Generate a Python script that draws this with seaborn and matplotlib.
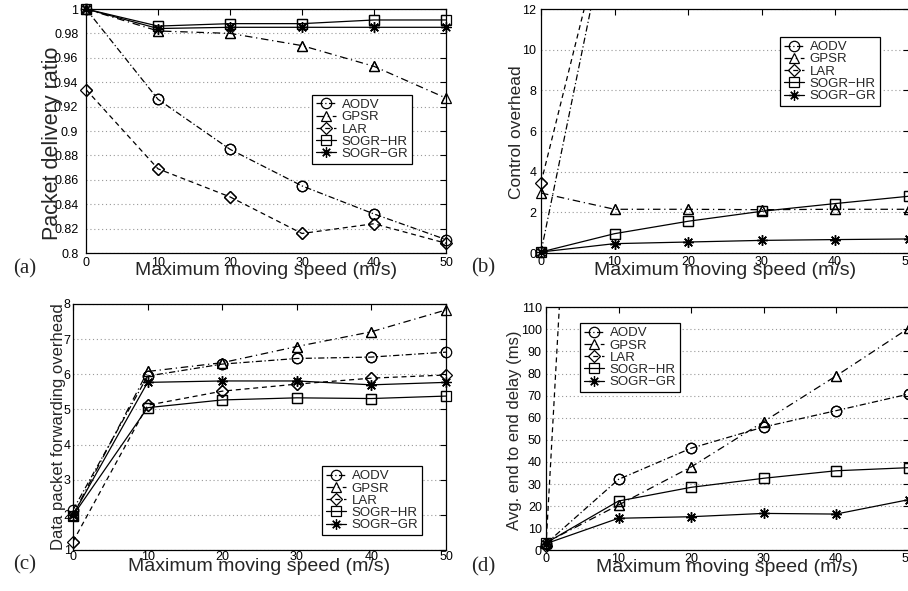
import matplotlib
matplotlib.use("Agg")
import matplotlib.pyplot as plt
import seaborn as sns

# x axis shared by all four panels
speed = [0, 10, 20, 30, 40, 50]
protocols = ["AODV", "GPSR", "LAR", "SOGR-HR", "SOGR-GR"]

# (a) packet delivery ratio
pdr_aodv = [1.0, 0.926, 0.885, 0.855, 0.832, 0.811]
pdr_gpsr = [1.0, 0.982, 0.980, 0.970, 0.953, 0.927]
pdr_lar = [0.934, 0.869, 0.846, 0.816, 0.824, 0.808]
pdr_hr = [1.0, 0.986, 0.988, 0.988, 0.991, 0.991]
pdr_gr = [1.0, 0.984, 0.985, 0.985, 0.985, 0.985]

# (b) control overhead (AODV / LAR leave the plot after x=0)
ctrl_aodv = [0.05, 17.7, 22.0, 26.0, 29.0, 32.0]
ctrl_gpsr = [2.95, 2.15, 2.15, 2.13, 2.15, 2.15]
ctrl_lar = [3.45, 18.0, 23.0, 27.0, 30.0, 33.0]
ctrl_hr = [0.05, 0.95, 1.56, 2.05, 2.43, 2.79]
ctrl_gr = [0.05, 0.46, 0.54, 0.62, 0.66, 0.69]

# (c) data packet forwarding overhead
fwd_aodv = [2.14, 5.95, 6.29, 6.45, 6.49, 6.63]
fwd_gpsr = [2.0, 6.08, 6.33, 6.79, 7.21, 7.83]
fwd_lar = [1.24, 5.12, 5.52, 5.72, 5.89, 5.98]
fwd_hr = [1.98, 5.05, 5.27, 5.33, 5.31, 5.38]
fwd_gr = [2.0, 5.77, 5.81, 5.81, 5.70, 5.77]

# (d) avg. end to end delay (ms)
delay_aodv = [3.0, 32.1, 46.2, 55.8, 63.2, 70.7]
delay_gpsr = [3.5, 20.5, 37.7, 58.2, 78.9, 100.5]
delay_lar = [2.0, 590.0, 760.0, 880.0, 960.0, 1030.0]
delay_hr = [3.3, 22.3, 28.5, 32.6, 36.0, 37.4]
delay_gr = [3.0, 14.5, 15.2, 16.7, 16.4, 22.9]

pdr_ticks = [0.8, 0.82, 0.84, 0.86, 0.88, 0.9, 0.92, 0.94, 0.96, 0.98, 1.0]
pdr_ticklabels = ["0.8", "0.82", "0.84", "0.86", "0.88", "0.9", "0.92", "0.94", "0.96", "0.98", "1"]

sns.set_style("white")
plt.rcParams["font.family"] = ["Liberation Sans", "DejaVu Sans"]

STYLES = {
    "AODV": dict(marker="o", linestyle=(0, (5, 2, 1, 2))),
    "GPSR": dict(marker="^", linestyle=(0, (6, 3, 1, 3))),
    "LAR": dict(marker="D", linestyle=(0, (4, 3))),
    "SOGR-HR": dict(marker="s", linestyle="-"),
    "SOGR-GR": dict(marker=(8, 2, 0), linestyle="-"),
}
MSIZE = {"AODV": 7.5, "GPSR": 7.5, "LAR": 6, "SOGR-HR": 6.5, "SOGR-GR": 7.5}


def draw_panel(ax, series, ylim, yticks, yticklabels, ylabel, ysize, ylab_xy, ypad, xpad,
               xlab_y, leg_xy):
    for name, vals in zip(protocols, series):
        st = STYLES[name]
        sns.lineplot(x=speed, y=vals, ax=ax, color="k", lw=0.9, label=name.replace("-", "\u2212"),
                     marker=st["marker"], linestyle=st["linestyle"], markersize=MSIZE[name],
                     markerfacecolor="none", markeredgecolor="k", markeredgewidth=0.9,
                     errorbar=None)
        # markers sit on top of the frame like in the original, so redraw the
        # visible ones without clipping
        xs = [x for x, v in zip(speed, vals) if ylim[0] <= v <= ylim[1]]
        vs = [v for v in vals if ylim[0] <= v <= ylim[1]]
        sns.lineplot(x=xs, y=vs, ax=ax, color="k", linestyle="none", marker=st["marker"],
                     markersize=MSIZE[name], markerfacecolor="none", markeredgecolor="k",
                     markeredgewidth=0.9, clip_on=False, errorbar=None)
    ax.set_xlim(0, 50)
    ax.set_ylim(*ylim)
    ax.set_xticks(speed)
    ax.set_yticks(yticks)
    ax.set_yticklabels(yticklabels)
    ax.yaxis.grid(True, color="0.6", linestyle=(0, (1, 2.5)), lw=0.8)
    ax.xaxis.grid(False)
    ax.tick_params(direction="in", top=True, right=True, length=4, width=0.8,
                   labelsize=9, colors="k")
    ax.tick_params(axis="y", pad=ypad)
    ax.tick_params(axis="x", pad=xpad)
    for sp in ax.spines.values():
        sp.set_color("k")
        sp.set_linewidth(0.9)
    ax.set_xlabel("Maximum moving speed (m/s)", fontsize=14)
    ax.xaxis.set_label_coords(0.5, xlab_y)
    ax.set_ylabel(ylabel, fontsize=ysize)
    ax.yaxis.set_label_coords(*ylab_xy)
    ax.yaxis.label.set_va("center")
    leg = ax.legend(loc="upper left", bbox_to_anchor=leg_xy, borderaxespad=0, fontsize=9.5,
                    frameon=True, fancybox=False, edgecolor="k", framealpha=1,
                    handlelength=1.5, handletextpad=0.45, labelspacing=0.0,
                    borderpad=0.3)
    leg.get_frame().set_linewidth(0.9)


W, H = 908, 591
fig = plt.figure(figsize=(W / 100, H / 100), dpi=100)


def px_axes(left, top, right, bottom):
    return fig.add_axes([left / W, 1 - bottom / H, (right - left) / W, (bottom - top) / H])


ax_a = px_axes(86, 9, 446, 253)
ax_b = px_axes(541, 9, 908.5, 253)
ax_c = px_axes(73, 304, 446, 550)
ax_d = px_axes(546, 307.3, 908.5, 550.3)

draw_panel(ax_a, [pdr_aodv, pdr_gpsr, pdr_lar, pdr_hr, pdr_gr], (0.8, 1.0),
           pdr_ticks, pdr_ticklabels, "Packet delivery ratio", 15.5, (-0.094, 0.45), 5.5, 3.0,
           -0.038, (0.628, 0.648))
draw_panel(ax_b, [ctrl_aodv, ctrl_gpsr, ctrl_lar, ctrl_hr, ctrl_gr], (0, 12),
           list(range(0, 13, 2)), [str(v) for v in range(0, 13, 2)], "Control overhead",
           12.5, (-0.068, 0.494), 3.4, 2.5, -0.038, (0.650, 0.885))
draw_panel(ax_c, [fwd_aodv, fwd_gpsr, fwd_lar, fwd_hr, fwd_gr], (1, 8),
           list(range(1, 9)), [str(v) for v in range(1, 9)],
           "Data packet forwarding overhead", 12, (-0.04, 0.5), 1.7, 1.0, -0.033, (0.668, 0.341))
draw_panel(ax_d, [delay_aodv, delay_gpsr, delay_lar, delay_hr, delay_gr], (0, 110),
           list(range(0, 111, 10)), [str(v) for v in range(0, 111, 10)],
           "Avg. end to end delay (ms)", 12, (-0.088, 0.495), 3.0, 2.2, -0.036, (0.094, 0.935))

for tag, (cx, cy) in zip(["(a)", "(b)", "(c)", "(d)"], [(25, 269), (483, 268), (25, 565), (483, 567)]):
    fig.text(cx / W, 1 - cy / H, tag, ha="center", va="center", fontsize=15,
             family=["Liberation Serif", "DejaVu Serif"])

fig.savefig("out.png", dpi=100)
